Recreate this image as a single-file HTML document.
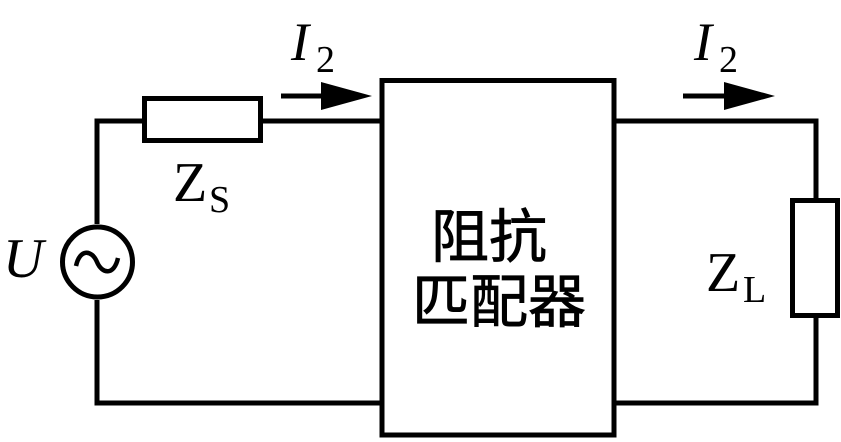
<!DOCTYPE html>
<html><head><meta charset="utf-8"><style>
html,body{margin:0;padding:0;background:#fff;}
svg{display:block;}
.s{font-family:"Liberation Serif","Times New Roman",serif;}
.c{font-family:"Liberation Sans","Noto Sans CJK SC",sans-serif;}
</style></head><body>
<svg width="841" height="442" viewBox="0 0 841 442" xmlns="http://www.w3.org/2000/svg">
<g fill="none" stroke="#000" stroke-width="5">
<polyline points="97,224 97,121 142,121"/>
<line x1="263" y1="121" x2="382" y2="121"/>
<polyline points="97,300 97,403 382,403"/>
<rect x="144.5" y="98.5" width="116" height="42"/>
<circle cx="97.5" cy="262" r="35"/>
<path d="M76,266 C80,248 92,250 97,262 C102,274 114,276 118,258" stroke-width="4.5"/>
<rect x="382" y="80.5" width="232" height="354.5"/>
<polyline points="614,121 816,121 816,198"/>
<polyline points="614,403 816,403 816,317"/>
<rect x="792.5" y="200.5" width="45" height="115"/>
<line x1="281" y1="96" x2="325" y2="96"/>
<line x1="683" y1="96" x2="728" y2="96"/>
</g>
<polygon points="321,82 372,96 321,110" fill="#000"/>
<polygon points="724,82 775,96 724,110" fill="#000"/>
<g class="s" fill="#000">
<text x="291" y="60" font-size="54" font-style="italic">I</text>
<text x="316" y="72" font-size="38">2</text>
<text x="694" y="60" font-size="54" font-style="italic">I</text>
<text x="719" y="72" font-size="38">2</text>
<text x="173" y="201" font-size="56">Z</text>
<text x="209" y="212" font-size="38">S</text>
<text x="3" y="277" font-size="56" font-style="italic">U</text>
<text x="706" y="291" font-size="56">Z</text>
<text x="743" y="302" font-size="38">L</text>
</g>
<g class="c" font-size="58" fill="#000" text-anchor="middle" stroke="#000" stroke-width="0.8">
<text x="489" y="257">阻抗</text>
<text x="499" y="322">匹配器</text>
</g>
</svg>
</body></html>
